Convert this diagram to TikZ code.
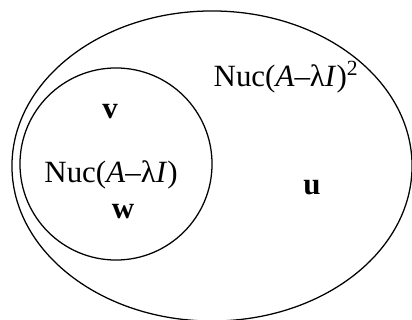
\documentclass[tikz,border=0pt]{standalone}
\usepackage{fontspec}
\setmainfont{Liberation Serif}
\usetikzlibrary{shapes.geometric, positioning}

\begin{document}
\begin{tikzpicture}[x=0.025cm, y=-0.025cm,
        setline/.style={draw, line width=0.9pt, inner sep=0pt},
        setlabel/.style={font=\fontsize{22}{26}\selectfont, inner sep=0pt},
        vecname/.style={font=\fontsize{22}{26}\selectfont\bfseries, inner sep=0pt}]
        \useasboundingbox (0,0) rectangle (412,320);
        \node[setline, ellipse, minimum width=10cm, minimum height=7.75cm] (nuc2) at (212,166) {};
        \node[setline, circle, minimum size=4.8cm] (nuc1) at (116,164) {};

        \node[setlabel] (lab2) at (286,77) {Nuc(\textit{A}–λ\textit{I})\textsuperscript{2}};
        \node[setlabel] (lab1) at (111,175) {Nuc(\textit{A}–λ\textit{I})};
        \node[vecname] (v) at (110,112) {v};
        \node[vecname] (w) at (123,212) {w};
        \node[vecname] (u) at (312,188) {u};
    \end{tikzpicture}
\end{document}
